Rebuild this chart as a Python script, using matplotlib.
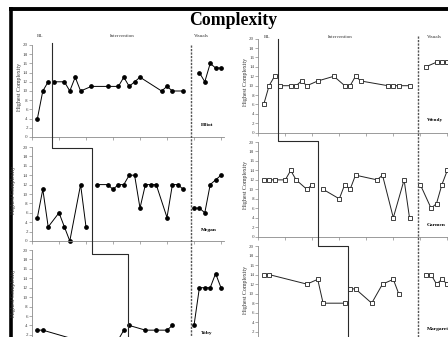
import matplotlib
matplotlib.use("Agg")
import matplotlib.pyplot as plt
from matplotlib.lines import Line2D

# ---------------- data (session number, highest complexity) ----------------
elliot_bl_x = [1, 2, 3]
elliot_bl = [4, 10, 12]
elliot_int_x = [4, 6, 7, 8, 9, 11, 14, 16, 17, 18, 19, 20, 24, 25, 26, 28]
elliot_int = [12, 12, 10, 13, 10, 11, 11, 11, 13, 11, 12, 13, 10, 11, 10, 10]
elliot_vis_x = [31, 32, 33, 34, 35]
elliot_vis = [14, 12, 16, 15, 15]

megan_bl_x = [1, 2, 3, 5, 6, 7, 9, 10]
megan_bl = [5, 11, 3, 6, 3, 0, 12, 3]
megan_int_x = [12, 14, 15, 16, 17, 18, 19, 20, 21, 22, 23, 25, 26, 27, 28]
megan_int = [12, 12, 11, 12, 12, 14, 14, 7, 12, 12, 12, 5, 12, 12, 11]
megan_vis_x = [30, 31, 32, 33, 34, 35]
megan_vis = [7, 7, 6, 12, 13, 14]

toby_bl_x = [1, 2, 8, 16, 17]
toby_bl = [3, 3, 1, 1, 3]
toby_int_x = [18, 21, 23, 25, 26]
toby_int = [4, 3, 3, 3, 4]
toby_vis_x = [30, 31, 32, 33, 34, 35]
toby_vis = [4, 12, 12, 12, 15, 12]

wendy_bl_x = [1, 2, 3]
wendy_bl = [6, 10, 12]
wendy_int_x = [4, 6, 7, 8, 9, 11, 14, 16, 17, 18, 19, 24, 25, 26, 28]
wendy_int = [10, 10, 10, 11, 10, 11, 12, 10, 10, 12, 11, 10, 10, 10, 10]
wendy_vis_x = [31, 33, 34, 35]
wendy_vis = [14, 15, 15, 15]

carmen_bl_x = [1, 2, 3, 5, 6, 7, 9, 10]
carmen_bl = [12, 12, 12, 12, 14, 12, 10, 11]
carmen_int_x = [12, 15, 16, 17, 18, 22, 23, 25, 27, 28]
carmen_int = [10, 8, 11, 10, 13, 12, 13, 4, 12, 4]
carmen_vis_x = [30, 32, 33, 34, 35]
carmen_vis = [11, 6, 7, 11, 14]

margaret_bl_x = [1, 2, 9, 11, 12, 16]
margaret_bl = [14, 14, 12, 13, 8, 8]
margaret_int_x = [17, 18, 21, 23, 25, 26]
margaret_int = [11, 11, 8, 12, 13, 10]
margaret_vis_x = [31, 32, 33, 34, 35]
margaret_vis = [14, 14, 12, 13, 12]

# session at which each participant moved from baseline to intervention
left_phase = [3.65, 11.1, 17.7]
right_phase = [3.7, 11.0, 16.7]
visuals_start = 29.5

left_names = ["Elliot", "Megan", "Toby"]
right_names = ["Wendy", "Carmen", "Margaret"]

# ---------------- figure ----------------
W, H = 448, 337
fig = plt.figure(figsize=(W / 100, H / 100), dpi=100)
fig.patch.set_facecolor("white")
SERIF = ["Liberation Serif", "DejaVu Serif"]


def px_rect(x0, y_top, x1, y_bot):
    return [x0 / W, 1 - y_bot / H, (x1 - x0) / W, (y_bot - y_top) / H]


def style_axes(ax, bottom_row):
    ax.set_xlim(0, 35.5)
    ax.set_ylim(0, 20)
    for s in ("top", "right"):
        ax.spines[s].set_visible(False)
    for s in ("left", "bottom"):
        ax.spines[s].set_color("#8a8a8a")
        ax.spines[s].set_linewidth(0.6)
    yt = list(range(2 if bottom_row else 0, 21, 2))
    ax.set_yticks(yt)
    ax.set_xticks(range(0, 36, 5))
    ax.set_xticklabels([])
    ax.tick_params(axis="both", direction="out", length=2, width=0.5,
                   colors="#8a8a8a", labelcolor="#444444", labelsize=3.6, pad=1)
    for lab in ax.get_yticklabels():
        lab.set_family(SERIF)
    ax.patch.set_alpha(0)


left_rows = [(45, 137), (147, 241), (250, 344.3)]
right_rows = [(38.7, 132.7), (142, 236.7), (246, 341.3)]
LX0, RX0 = 32, 258.3
span = 5.4 * 35.5

left_data = [
    (elliot_bl_x, elliot_bl, elliot_int_x, elliot_int, elliot_vis_x, elliot_vis),
    (megan_bl_x, megan_bl, megan_int_x, megan_int, megan_vis_x, megan_vis),
    (toby_bl_x, toby_bl, toby_int_x, toby_int, toby_vis_x, toby_vis),
]
right_data = [
    (wendy_bl_x, wendy_bl, wendy_int_x, wendy_int, wendy_vis_x, wendy_vis),
    (carmen_bl_x, carmen_bl, carmen_int_x, carmen_int, carmen_vis_x, carmen_vis),
    (margaret_bl_x, margaret_bl, margaret_int_x, margaret_int, margaret_vis_x, margaret_vis),
]

left_axes, right_axes = [], []
for k, ((top, bot), series) in enumerate(zip(left_rows, left_data)):
    ax = fig.add_axes(px_rect(LX0, top, LX0 + span, bot))
    style_axes(ax, k == 2)
    for i in range(0, 6, 2):
        ax.plot(series[i], series[i + 1], "-o", color="black", lw=0.7, ms=2.4,
                clip_on=False)
    left_axes.append(ax)

for k, ((top, bot), series) in enumerate(zip(right_rows, right_data)):
    ax = fig.add_axes(px_rect(RX0, top, RX0 + span, bot))
    style_axes(ax, k == 2)
    for i in range(0, 6, 2):
        ax.plot(series[i], series[i + 1], "-s", color="#222222", lw=0.7, ms=2.6,
                mfc="white", mec="#222222", mew=0.6, clip_on=False)
    right_axes.append(ax)

to_fig = fig.transFigure.inverted()


def fig_pt(ax, x, y):
    return to_fig.transform(ax.transData.transform((x, y)))


def phase_step(axes, phases, levels, top_val):
    pts = [fig_pt(axes[0], phases[0], top_val)]
    for k in range(1, len(axes)):
        pts.append(fig_pt(axes[k], phases[k - 1], levels[k - 1]))
        pts.append(fig_pt(axes[k], phases[k], levels[k - 1]))
    pts.append(fig_pt(axes[-1], phases[-1], -3))
    xs = [p[0] for p in pts]
    ys = [p[1] for p in pts]
    fig.add_artist(Line2D(xs, ys, transform=fig.transFigure, color="#2a2a2a",
                          lw=0.8))


phase_step(left_axes, left_phase, [19.7, 19.2], 20.5)
phase_step(right_axes, right_phase, [20.3, 19.9], 20.0)

# dashed line marking the start of the visuals phase
for axes, top_val in ((left_axes, 20.0), (right_axes, 20.6)):
    p0 = fig_pt(axes[0], visuals_start, top_val)
    p1 = fig_pt(axes[-1], visuals_start, -3)
    fig.add_artist(Line2D([p0[0], p1[0]], [p0[1], p1[1]], transform=fig.transFigure,
                          color="#555555", lw=1.0, ls=(0, (1.6, 0.9))))


def ftext(x, y, s, **kw):
    fig.text(x / W, 1 - y / H, s, family=SERIF, **kw)


# title and phase headers
ftext(233, 25, "Complexity", fontsize=12.8, fontweight="bold", ha="center",
      va="baseline")
for x, s in ((40, "BL"), (122, "Intervention"), (201.5, "Visuals")):
    ftext(x, 36, s, fontsize=3.6, ha="center", va="center", color="#333333")
for x, s in ((267.5, "BL"), (340, "Intervention"), (434, "Visuals")):
    ftext(x, 37.5, s, fontsize=3.6, ha="center", va="center", color="#333333")

# y axis titles
for (top, bot), x in zip(left_rows, (19, 14, 14)):
    ftext(x, (top + bot) / 2 - 4, "Highest Complexity", fontsize=4.2,
          rotation=90, ha="center", va="center", color="#333333")
for (top, bot) in right_rows:
    ftext(245, (top + bot) / 2 - 4, "Highest Complexity", fontsize=4.2,
          rotation=90, ha="center", va="center", color="#333333")

# participant names
for name, y in zip(left_names, (125, 230, 333)):
    ftext(201, y, name, fontsize=3.9, fontweight="bold", ha="left", va="center")
for name, y in zip(right_names, (120, 225, 329)):
    ftext(426.5, y, name, fontsize=3.9, fontweight="bold", ha="left", va="center")

# heavy frame along the top and left edges
fig.add_artist(Line2D([9 / W, 1.0], [1 - 9 / H, 1 - 9 / H], transform=fig.transFigure,
                      color="black", lw=2.8, solid_capstyle="butt"))
fig.add_artist(Line2D([10.8 / W, 10.8 / W], [1 - 7 / H, 0.0], transform=fig.transFigure,
                      color="black", lw=2.6, solid_capstyle="butt"))

fig.savefig("out.png", dpi=100)
